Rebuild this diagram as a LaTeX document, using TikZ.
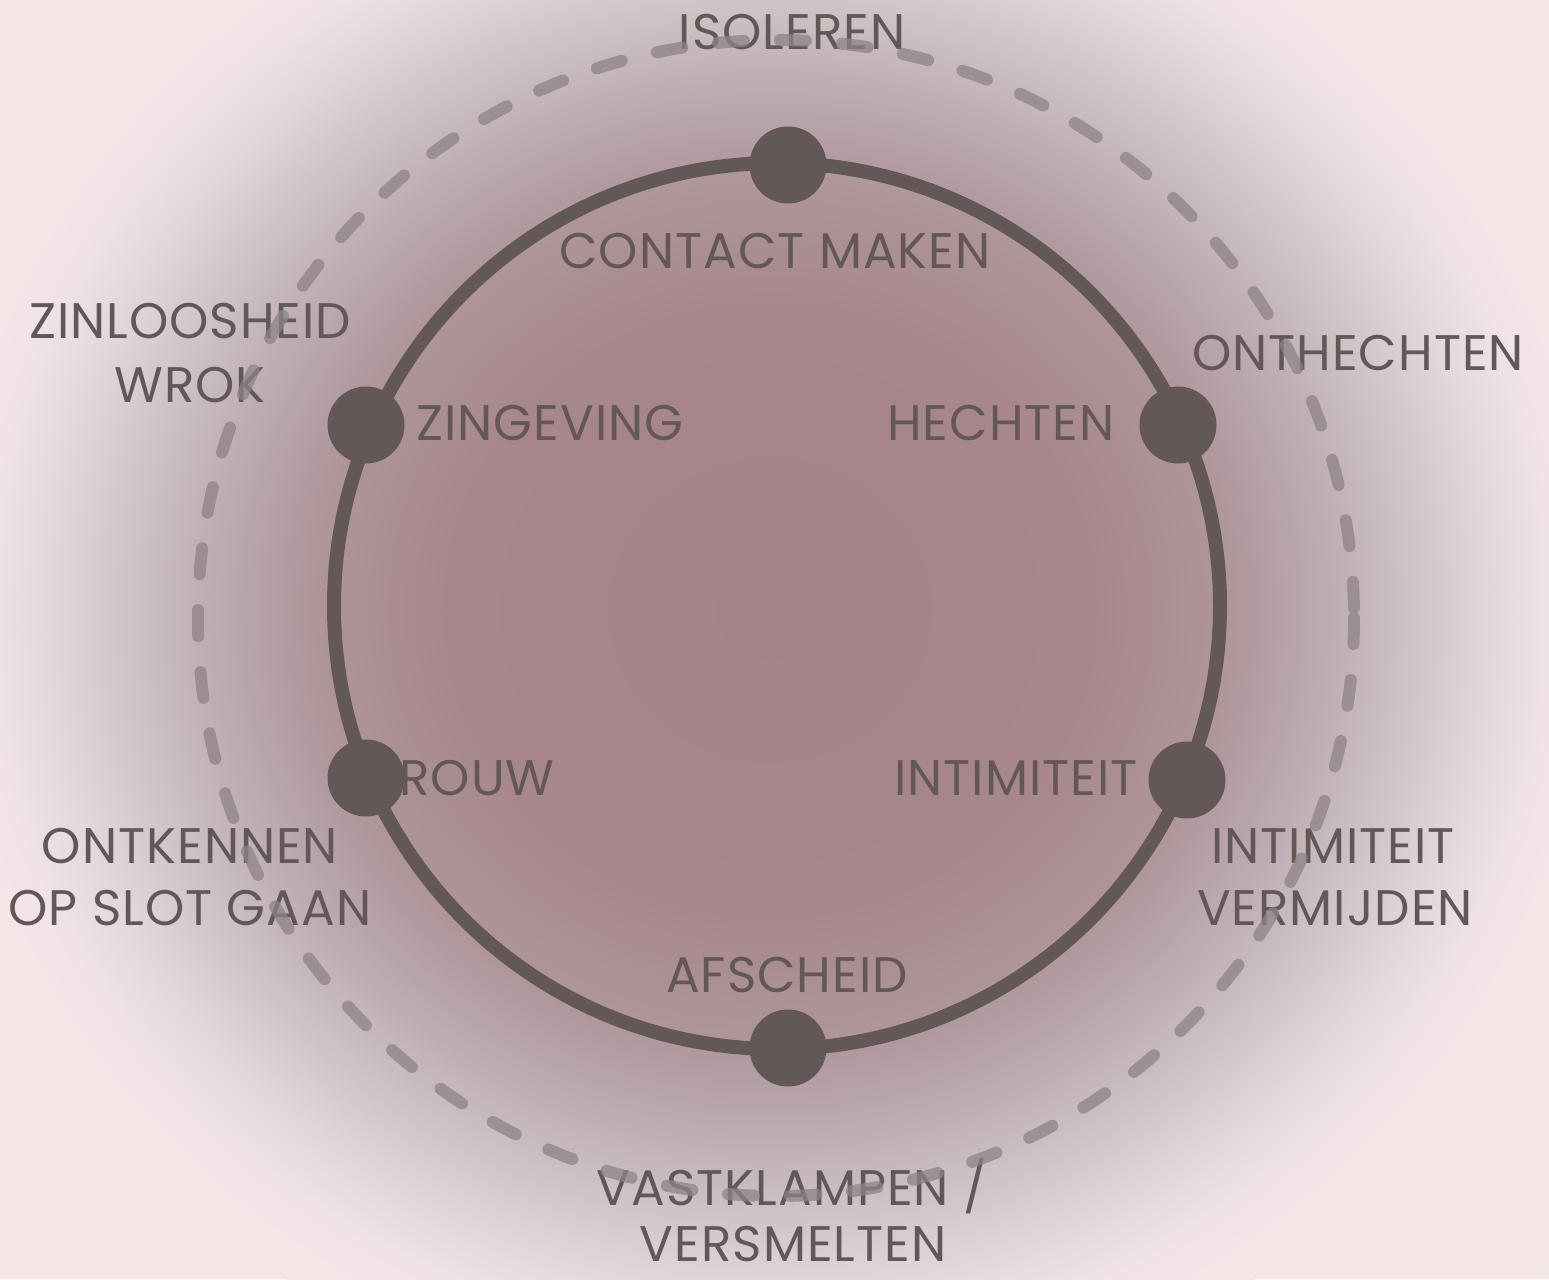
\documentclass[tikz,border=0pt]{standalone}
\usepackage{fontspec}
\setmainfont{Poppins}[LetterSpace=2]
\definecolor{bgpink}{HTML}{F4E5E7}
\definecolor{cA}{HTML}{A4838A}
\definecolor{cB}{HTML}{A7878D}
\definecolor{cC}{HTML}{AF969B}
\definecolor{cD}{HTML}{BDADB2}
\definecolor{cE}{HTML}{CFC5C9}
\definecolor{cF}{HTML}{E1D6D9}
\definecolor{cG}{HTML}{EFE2E5}
\definecolor{ink}{HTML}{625857}
\definecolor{dashc}{HTML}{8E8384}
\pgfdeclareradialshading{blob}{\pgfpoint{0bp}{0bp}}{color(0bp)=(cA); color(9.4bp)=(cB); color(13.4bp)=(cC); color(16.3bp)=(cD); color(18.8bp)=(cE); color(20.8bp)=(cF); color(22.6bp)=(cG); color(24bp)=(bgpink); color(50bp)=(bgpink)}
\tikzset{
  lbl/.style={text=ink, inner sep=0pt, anchor=base, text depth=0pt, font=\fontsize{50}{62}\selectfont},
  dot/.style={circle, fill=ink, minimum size=77pt, inner sep=0pt},
  ring/.style={draw=ink, line width=14pt},
  dring/.style={draw=dashc, opacity=0.75, line width=12pt, line cap=round, dash pattern=on 26pt off 36pt}
}
\begin{document}
\begin{tikzpicture}[x=1pt,y=-1pt]
\useasboundingbox (0,0) rectangle (1549,1279);
\begin{scope}
\clip (0,0) rectangle (1549,1279);
\fill[bgpink] (0,0) rectangle (1549,1279);
\shade[shading=blob] (770,610) ellipse [x radius=860, y radius=810];
\end{scope}
% main cycle
\coordinate (c) at (777,606);
\draw[ring] (c) circle (443);
% labels
\node[lbl] (isoleren) at (792,50) {ISOLEREN};
\node[lbl] (contact) at (775,268) {CONTACT MAKEN};
\node[lbl] (zinloos) at (190,338) {ZINLOOSHEID};
\node[lbl] (wrok) at (190,402) {WROK};
\node[lbl] (zingeving) at (550,440) {ZINGEVING};
\node[lbl] (onthechten) at (1358,370) {ONTHECHTEN};
\node[lbl] (hechten) at (1001,440) {HECHTEN};
\node[lbl] (intimiteit) at (1016,795) {INTIMITEIT};
\node[lbl] (rouw) at (477,795) {ROUW};
\node[lbl] (ontkennen) at (190,863) {ONTKENNEN};
\node[lbl] (opslot) at (190,925) {OP SLOT GAAN};
\node[lbl] (intim2) at (1333,863) {INTIMITEIT};
\node[lbl] (vermijden) at (1335,925) {VERMIJDEN};
\node[lbl] (afscheid) at (787,992) {AFSCHEID};
\node[lbl] (vast) at (792,1205) {VASTKLAMPEN /};
\node[lbl] (versmelten) at (793,1261) {VERSMELTEN};
% dashed outer circle
\draw[dring] (776,618) circle (578);
% dots
\node[dot] (d1) at (788,165) {};
\node[dot] (d2) at (1178,425) {};
\node[dot] (d3) at (1187,780) {};
\node[dot] (d4) at (788,1048) {};
\node[dot] (d5) at (366,778) {};
\node[dot] (d6) at (366,425) {};
\end{tikzpicture}
\end{document}
